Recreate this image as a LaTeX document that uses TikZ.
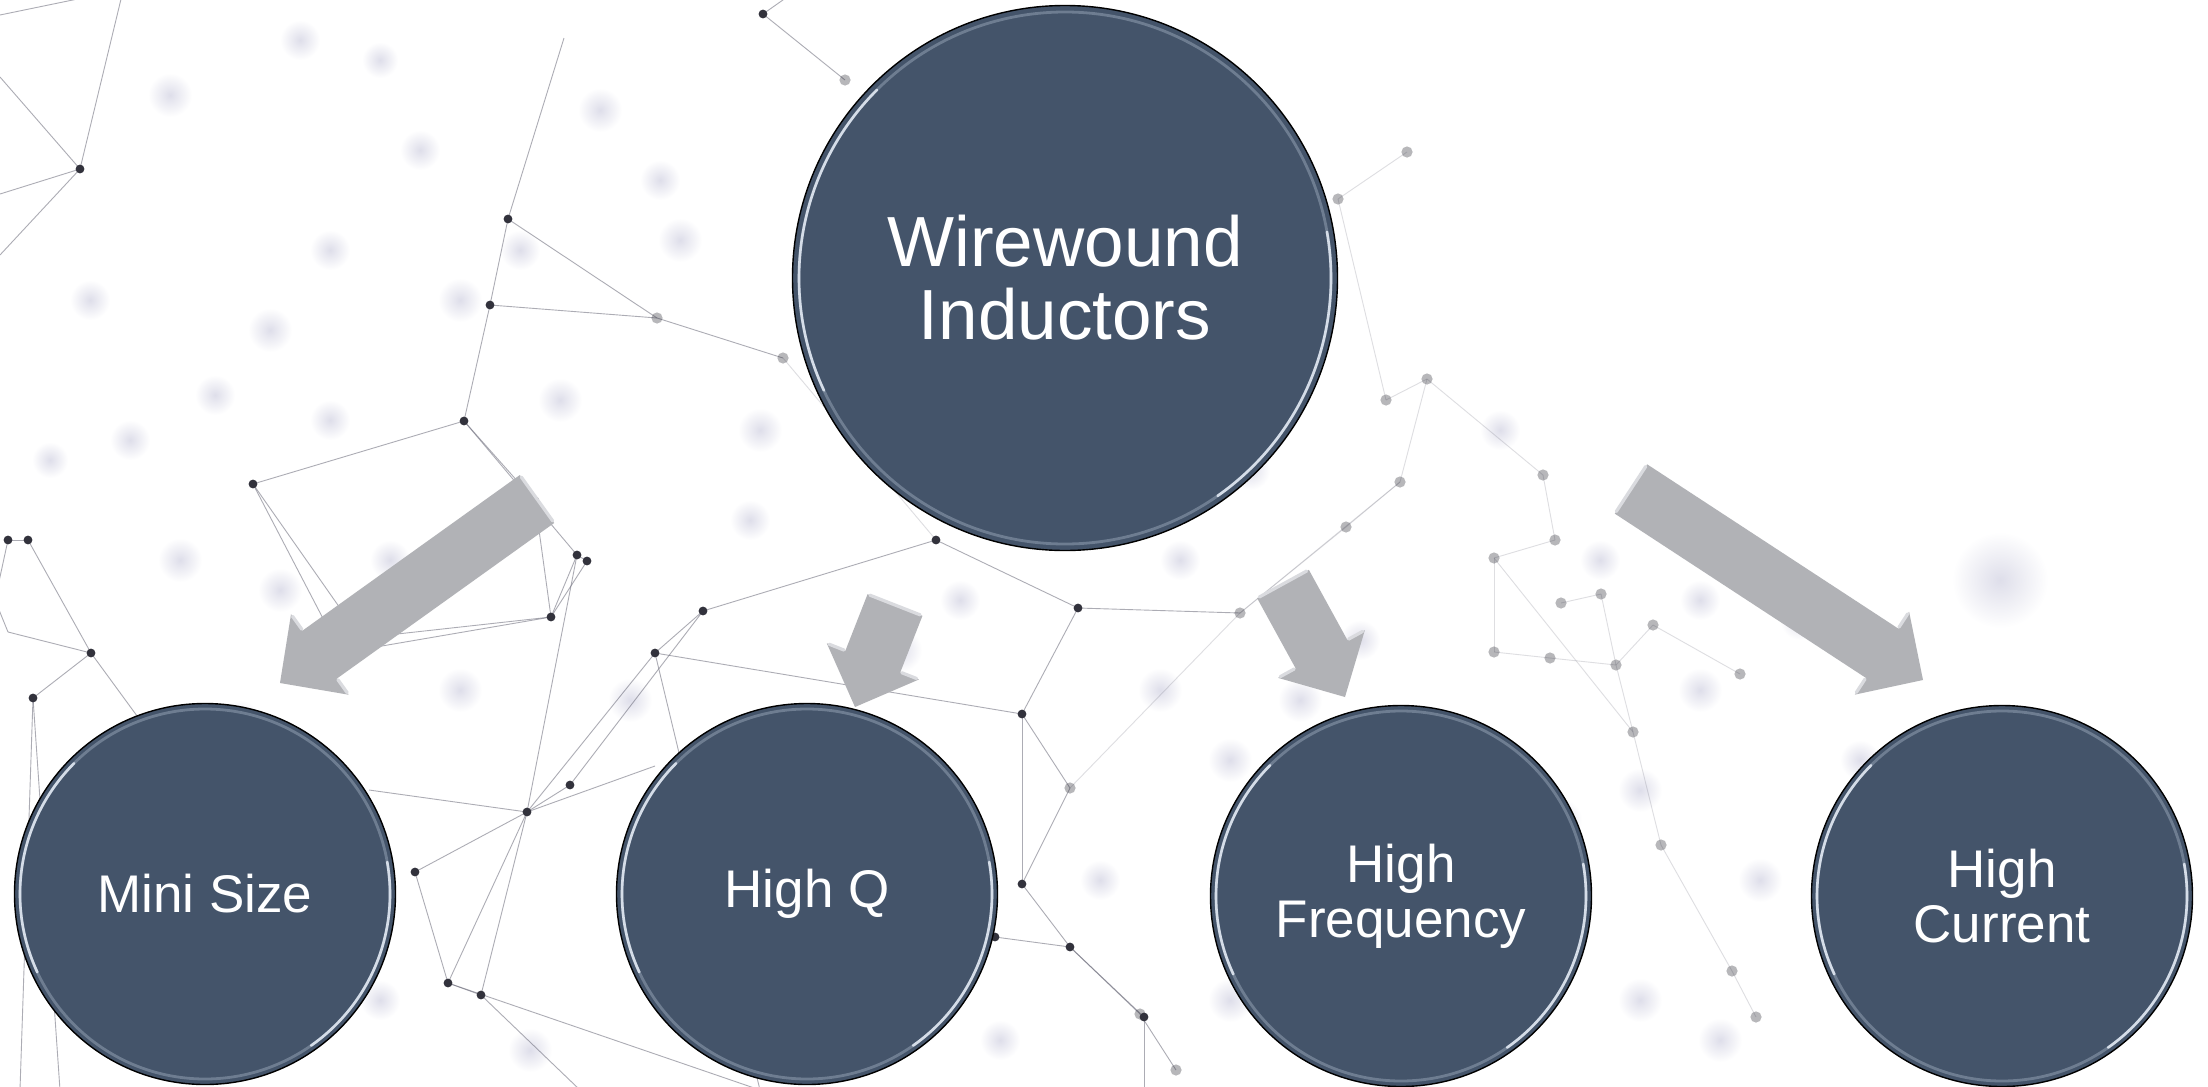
\documentclass[tikz,border=0pt]{standalone}
\usepackage{fontspec}
\setmainfont{Liberation Sans}
\usetikzlibrary{calc}
\definecolor{circfill}{RGB}{68,84,106}
\definecolor{arrfill}{RGB}{177,178,182}
\definecolor{arrlight}{RGB}{218,219,223}
\definecolor{netline}{RGB}{105,105,120}
\definecolor{netdot}{RGB}{50,50,60}
\definecolor{blobc}{RGB}{222,222,234}
\definecolor{rimsoftc}{RGB}{110,125,145}
\definecolor{rimbrightc}{RGB}{225,232,242}
\tikzset{
  x=0.5pt, y=-0.5pt,
  bigcirc/.style={circle, fill=circfill, draw=black, line width=0.7pt, minimum size=272.5pt,
    inner sep=0pt, text=white, align=center, font=\fontsize{35.5pt}{36.5pt}\selectfont},
  smallcirc/.style={circle, fill=circfill, draw=black, line width=0.7pt, minimum size=190.5pt,
    inner sep=0pt, text=white, align=center, font=\fontsize{26.5pt}{27.5pt}\selectfont},
  arrowbody/.style={fill=arrfill},
  arrowedge/.style={draw=arrlight, line width=1.6pt, line cap=round},
  rimsoft/.style={draw=rimsoftc, line width=1.4pt},
  rimbright/.style={draw=rimbrightc, line width=1.3pt, line cap=round, opacity=0.9},
  netedge/.style={draw=netline, line width=0.45pt, opacity=0.55},
  netfaint/.style={draw=netline, line width=0.45pt, opacity=0.22},
  sharpdot/.style={fill=netdot},
  softdot/.style={fill=netdot, opacity=0.35},
}
\newcommand{\blockarr}[2]{%
  \coordinate (#1-h) at ($(#2)!24.5pt!(#1)$);
  \fill[arrowbody] ($(#1)!14.75pt!90:(#2)$) -- ($(#1-h)!14.75pt!90:(#2)$)
    -- ($(#1-h)!24.75pt!90:(#2)$) -- (#2) -- ($(#1-h)!24.75pt!-90:(#2)$)
    -- ($(#1-h)!14.75pt!-90:(#2)$) -- ($(#1)!14.75pt!-90:(#2)$) -- cycle;
  \draw[arrowedge] ($(#1)!13.5pt!90:(#2)$) -- ($(#1)!13.5pt!-90:(#2)$);
  \draw[arrowedge] ($(#1-h)!15.5pt!90:(#2)$) -- ($(#1-h)!23.5pt!90:(#2)$);
  \draw[arrowedge] ($(#1-h)!15.5pt!-90:(#2)$) -- ($(#1-h)!23.5pt!-90:(#2)$);
}
\newcommand{\rimglow}[2]{%
  \draw[rimsoft] (#1.center) circle[radius=#2];
  \draw[rimbright] ([shift={(135:#2)}]#1.center) arc[start angle=135,end angle=205,radius=#2];
  \draw[rimbright] ([shift={(-55:#2)}]#1.center) arc[start angle=-55,end angle=10,radius=#2];
}
\begin{document}
\begin{tikzpicture}
\fill[white] (0,0) rectangle (2208,1087);
\useasboundingbox (0,0) rectangle (2208,1087);
\begin{scope}
\clip (0,0) rectangle (2208,1087);
% blurred background dots
\foreach \bx/\by/\br in {170/95/11,300/40/10,600/110/11,660/180/10,680/240/11,380/60/9,460/300/11,270/330/11,
  215/395/10,330/420/10,560/400/11,760/430/11,130/440/10,50/460/9,180/560/11,280/590/11,390/560/10,460/690/11,
  240/720/10,630/700/11,700/760/11,900/650/11,880/760/11,1160/690/11,1230/760/11,1300/700/11,1180/560/10,
  1250/470/10,1500/430/10,1470/760/11,1560/820/11,1640/790/11,1700/690/11,1760/880/11,1720/1040/11,1230/1000/11,
  1100/880/10,650/960/11,530/1050/11,840/980/11,1700/600/10,1600/560/10,1470/900/11,1640/1000/11,2000/580/24,
  1300/820/11,1360/640/10,960/600/10,380/1000/10,300/900/10,120/860/10,1860/760/10,1800/620/10,
  420/150/10,520/250/10,90/300/10,330/250/10,750/520/10,1000/1040/10,1280/900/10,1900/1000/10}
  {\shade[inner color=blobc, outer color=white] (\bx,\by) circle[radius=\br pt];}
% network points
\foreach \n/\px/\py in {1/80/169,2/122/-5,3/0/77,4/0/194,5/0/255,6/0/15,7/97/-5,8/508/219,9/564/38,
  10/490/305,11/657/318,12/783/358,13/464/421,14/253/484,15/361/638,16/341/653,17/551/617,18/587/561,
  19/577/555,20/535/501,21/763/14,22/845/80,23/33/698,24/8/540,25/28/540,26/91/653,27/8/632,28/703/611,
  29/655/653,30/1078/608,31/1022/714,32/570/785,33/527/812,34/415/872,35/448/983,36/481/995,37/1022/884,
  38/1070/947,39/1144/1017,40/1240/613,41/1338/199,42/1407/152,43/1427/379,44/1386/400,45/1400/482,
  46/1346/527,47/1543/475,48/1555/540,49/1494/558,50/1601/594,51/1561/603,52/1494/652,53/1550/658,
  54/1616/665,55/1653/625,56/1740/674,57/936/540,58/1732/971,59/1756/1017,60/1661/845,61/1633/732,
  62/1070/788,63/1140/1014,64/1176/1070,65/995/937,66/369/790,67/655/766,68/1144/1090,69/580/1090,
  70/140/720,71/-5/600,72/60/1090,73/20/1090,74/760/1090,76/790/-5}
  {\coordinate (n\n) at (\px,\py);}
\foreach \a/\b in {1/2,1/3,1/4,1/5,6/7,8/9,8/10,10/13,8/11,10/11,11/12,13/20,13/19,13/14,14/16,14/15,
  15/16,15/17,16/17,17/19,17/18,19/18,20/17,21/22,21/76,23/72,23/73,23/26,26/27,26/70,24/25,25/26,27/71,
  24/71,28/29,29/31,28/57,57/30,30/31,31/37,29/33,33/32,32/28,33/34,33/66,33/35,33/36,35/36,36/69,34/35,
  33/67,19/33,37/38,38/39,39/68,65/38,62/31,62/37,63/64,38/63,30/40,29/74,35/74}
  {\draw[netedge] (n\a) -- (n\b);}
\foreach \a/\b in {41/42,43/44,43/45,45/46,46/40,44/41,47/48,48/49,49/52,52/53,53/54,50/54,51/50,55/54,
  55/56,47/43,49/61,61/60,60/58,58/59,54/61,12/57,40/62,40/45}
  {\draw[netfaint] (n\a) -- (n\b);}
\foreach \n in {1,8,10,13,14,15,16,17,18,19,20,21,23,24,25,26,28,29,30,31,32,33,34,35,36,37,38,39,57,65}
  {\fill[sharpdot] (n\n) circle[radius=2.2pt];}
\foreach \n in {11,12,22,40,41,42,43,44,45,46,47,48,49,50,51,52,53,54,55,56,58,59,60,61,62,63,64}
  {\fill[softdot] (n\n) circle[radius=2.8pt];}
\end{scope}
% main circles
\node[bigcirc] (core) at (1065,278) {Wirewound\\Inductors};
\node[smallcirc] (mini) at (205,894) {Mini Size};
\node[smallcirc] (hq) at (807,894) {High Q};
\node[smallcirc] (hf) at (1401,896) {High\\Frequency};
\node[smallcirc] (hc) at (2002,896) {High\\Current};
\rimglow{core}{133pt}
\rimglow{mini}{92.5pt}
\rimglow{hq}{92.5pt}
\rimglow{hf}{92.5pt}
\rimglow{hc}{92.5pt}
% block arrows
\coordinate (a1s) at (537,499); \coordinate (a1e) at (280,683);
\coordinate (a2s) at (895,605); \coordinate (a2e) at (855,707);
\coordinate (a3s) at (1283,584); \coordinate (a3e) at (1345,697);
\coordinate (a4s) at (1631,489); \coordinate (a4e) at (1923,680);
\blockarr{a1s}{a1e}
\blockarr{a2s}{a2e}
\blockarr{a3s}{a3e}
\blockarr{a4s}{a4e}
\end{tikzpicture}
\end{document}
